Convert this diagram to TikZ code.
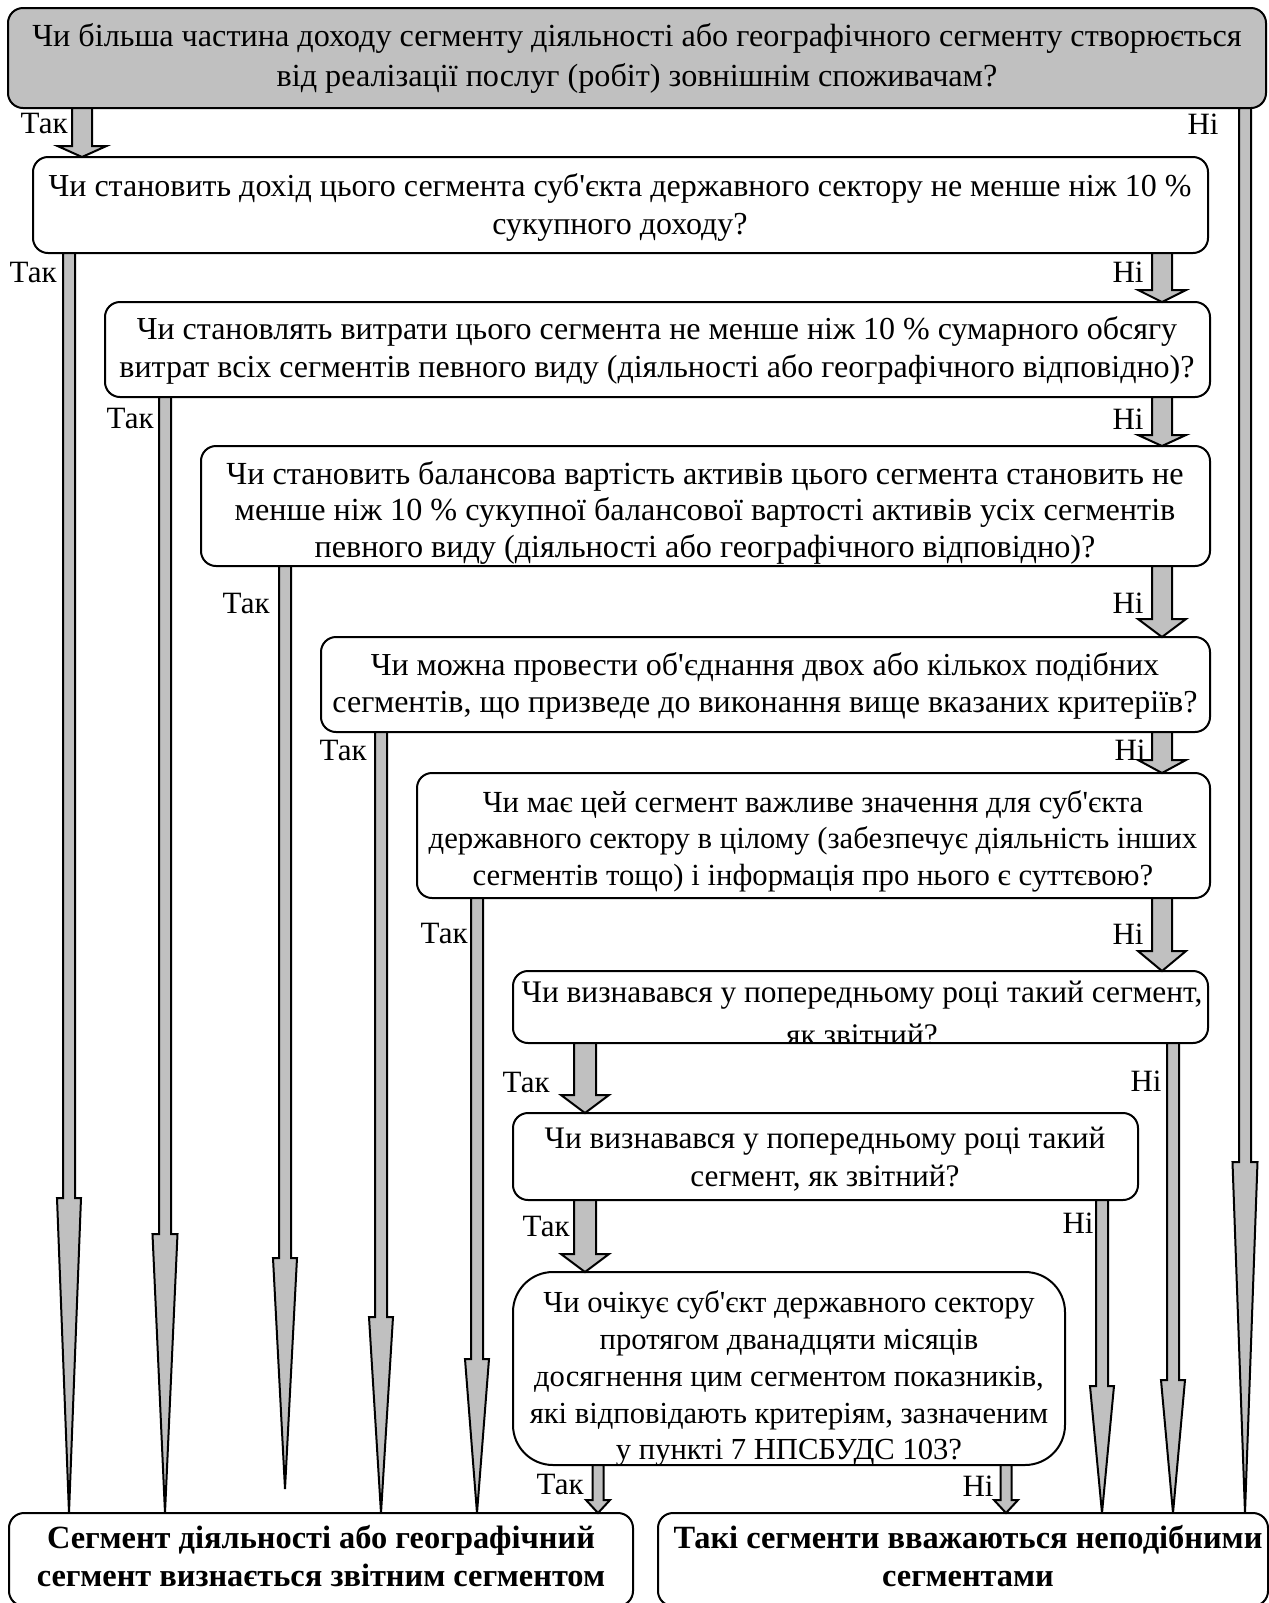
\documentclass[tikz,border=0pt]{standalone}
\usepackage{fontspec}
\setmainfont{Liberation Serif}[Ligatures=TeXOff]
\usetikzlibrary{fit}
\definecolor{grayfill}{RGB}{192,192,192}
\newcommand\fs{\fontsize{15.5pt}{19pt}\selectfont}
\newcommand\fz[2]{\fontsize{#1pt}{#2pt}\selectfont}
% #1 x centre, #2 source anchor, #3 y where head starts, #4 target (anchor or coordinate), #5 half shaft, #6 half head
\newcommand\blk[6]{%
  \filldraw[arr] (#1-#5,0 |- #2) -- (#1-#5,#3) -- (#1-#6,#3) -- (#1,0 |- #4)
    -- (#1+#6,#3) -- (#1+#5,#3) -- (#1+#5,0 |- #2) -- cycle;}
\begin{document}
\begin{tikzpicture}[x=0.5pt,y=-0.5pt,
  box/.style={draw, line width=1pt, rounded corners=7.5pt, fill=white, inner sep=0pt, outer sep=0pt},
  txt/.style={align=center, inner sep=0pt, anchor=north},
  arr/.style={draw, line width=1pt, fill=grayfill},
  lab/.style={font=\fs, inner sep=0pt, anchor=east}]
\useasboundingbox (0,0) rectangle (1269,1603);

% boxes
\node[box, fill=grayfill, fit={(8,8) (1266,108)}] (b1) {};
\node[box, fit={(33,157) (1208,253)}] (b2) {};
\node[box, fit={(105,302) (1210,397)}] (b3) {};
\node[box, fit={(201,446) (1210,566)}] (b4) {};
\node[box, fit={(321,637) (1210,732)}] (b5) {};
\node[box, fit={(417,773) (1210,898)}] (b6) {};
\node[box, fit={(513,971) (1208,1043)}] (b7) {};
\node[box, fit={(513,1113) (1138,1200)}] (b8) {};
\node[box, rounded corners=20pt, fit={(513,1272) (1065,1465)}] (b9) {};
\node[box, fit={(9,1513) (633,1606)}] (bL) {};
\node[box, fit={(658,1513) (1268,1606)}] (bR) {};

% texts
\node[txt, font=\fz{16.1}{20}] (t1) at (637,23)
  {Чи більша частина доходу сегменту діяльності або географічного сегменту створюється\\
   від реалізації послуг (робіт) зовнішнім споживачам?};
\node[txt, font=\fz{16}{19}] (t2) at (620,173)
  {Чи становить дохід цього сегмента суб'єкта державного сектору не менше ніж 10 \%\\
   сукупного доходу?};
\node[txt, font=\fz{16}{19}] (t3) at (657,316)
  {Чи становлять витрати цього сегмента не менше ніж 10 \% сумарного обсягу\\
   витрат всіх сегментів певного виду (діяльності або географічного відповідно)?};
\node[txt, font=\fz{16.1}{18.2}] (t4) at (705,461)
  {Чи становить балансова вартість активів цього сегмента становить не\\
   менше ніж 10 \% сукупної балансової вартості активів усіх сегментів\\
   певного виду (діяльності або географічного відповідно)?};
\node[txt, font=\fz{16}{18.4}] (t5) at (765,652)
  {Чи можна провести об'єднання двох або кількох подібних\\
   сегментів, що призведе до виконання вище вказаних критеріїв?};
\node[txt, font=\fz{15.35}{18.2}] (t6) at (813,790)
  {Чи має цей сегмент важливе значення для суб'єкта\\
   державного сектору в цілому (забезпечує діяльність інших\\
   сегментів тощо) і інформація про нього є суттєвою?};
\begin{scope}
  \clip (513,971) rectangle (1208,1042);
  \node[txt, font=\fz{15.7}{19}] (t7) at (862,981)
    {Чи визнавався у попередньому році такий сегмент,\\[2.5pt] як звітний?};
\end{scope}
\node[txt, font=\fz{15.65}{18.9}] (t8) at (825,1127)
  {Чи визнавався у попередньому році такий\\
   сегмент, як звітний?};
\node[txt, font=\fz{15.3}{18.45}] (t9) at (789,1290)
  {Чи очікує суб'єкт державного сектору\\
   протягом дванадцяти місяців\\
   досягнення цим сегментом показників,\\
   які відповідають критеріям, зазначеним\\
   у пункті 7 НПСБУДС 103?};
\node[txt, font=\fz{16.2}{18.9}\bfseries] (tL) at (321,1525)
  {Сегмент діяльності або географічний\\
   сегмент визнається звітним сегментом};
\node[txt, font=\fz{16.2}{18.9}\bfseries] (tR) at (968,1525)
  {Такі сегменти вважаються неподібними\\
   сегментами};

% short thick arrows
\blk{82}{b1.south}{146}{b2.north}{10}{24.5}
\blk{1162}{b2.south}{290}{b3.north}{10}{24}
\blk{1162}{b3.south}{435}{b4.north}{10}{24}
\blk{1162}{b4.south}{619}{b5.north}{10}{24}
\blk{1162}{b5.south}{760}{b6.north}{10}{24}
\blk{1162}{b6.south}{951}{b7.north}{10}{24}
\blk{585}{b7.south}{1095}{b8.north}{11}{24}
\blk{585}{b8.south}{1254}{b9.north}{11}{24}
\blk{598}{b9.south}{1500}{bL.north}{5.5}{12}
\blk{1006}{b9.south}{1500}{bR.north}{5.5}{12}
% long thin arrows
\blk{1245}{b1.south}{1162}{bR.north}{6}{12.5}
\blk{69}{b2.south}{1198}{bL.north}{6}{12}
\blk{165}{b3.south}{1234}{bL.north}{6}{12.5}
\blk{285}{b4.south}{1258}{0,1489}{6}{12}
\blk{381}{b5.south}{1317}{bL.north}{6}{12}
\blk{477}{b6.south}{1359}{bL.north}{6}{12}
\blk{1173}{b7.south}{1380}{bR.north}{6}{12}
\blk{1102}{b8.south}{1386}{bR.north}{6}{12}

% labels
\node[lab] (l1) at (68,123) {Так};
\node[lab] (n1) at (1219,124) {Ні};
\node[lab] (l2) at (57,272) {Так};
\node[lab] (n2) at (1144,272) {Ні};
\node[lab] (l3) at (154,418) {Так};
\node[lab] (n3) at (1144,419) {Ні};
\node[lab] (l4) at (270,603) {Так};
\node[lab] (n4) at (1144,603) {Ні};
\node[lab] (l5) at (367,750) {Так};
\node[lab] (n5) at (1146,750) {Ні};
\node[lab] (l6) at (468,933) {Так};
\node[lab] (n6) at (1144,934) {Ні};
\node[lab] (l7) at (550,1082) {Так};
\node[lab] (n7) at (1162,1081) {Ні};
\node[lab] (l8) at (570,1226) {Так};
\node[lab] (n8) at (1094,1223) {Ні};
\node[lab] (l9) at (584,1484) {Так};
\node[lab] (n9) at (994,1486) {Ні};
\end{tikzpicture}
\end{document}
